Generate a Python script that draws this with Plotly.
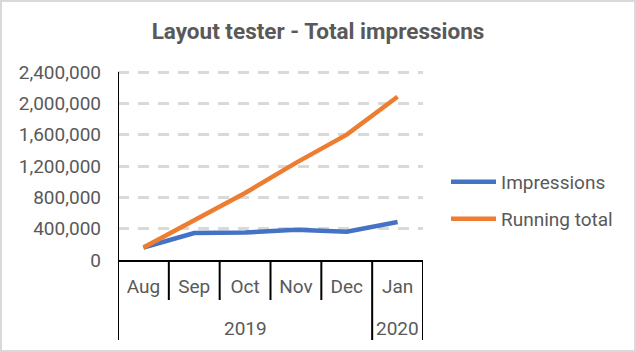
import plotly.graph_objects as go

months = ["Aug", "Sep", "Oct", "Nov", "Dec", "Jan"]
years = ["2019", "2019", "2019", "2019", "2019", "2020"]
impressions = [160000, 345000, 350000, 385000, 360000, 485000]
running_total = [160000, 505000, 855000, 1240000, 1600000, 2085000]
y_ticks = [0, 400000, 800000, 1200000, 1600000, 2000000, 2400000]

W, H = 636, 352
ML, MR, MT, MB = 118, 213, 70, 92
PW, PH = W - ML - MR, H - MT - MB
# 2,400,000 sits at y=72 px; leave 2 px above so its gridline is drawn
Y_MAX = 2400000 * PH / (PH - 2)

def px_x(p):
    return (p - ML) / PW

def px_y(p):
    return (H - MB - p) / PH

FONT = "Roboto"
GREY = "#595959"
BLUE = "#4472C4"
ORANGE = "#ED7D31"

fig = go.Figure()
fig.add_trace(go.Scatter(x=months, y=impressions, mode="lines", name="Impressions",
                         line=dict(color=BLUE, width=4.5), legend="legend", showlegend=True))
fig.add_trace(go.Scatter(x=months, y=running_total, mode="lines", name="Running total",
                         line=dict(color=ORANGE, width=4.5), legend="legend2", showlegend=True))

shapes = []
n = len(months)
# vertical value-axis line, from 0 up to the top tick
shapes.append(dict(type="line", xref="x", yref="y", x0=-0.5, x1=-0.5,
                   y0=0, y1=y_ticks[-1], line=dict(color="black", width=2)))
for i in range(n + 1):
    b = i - 0.5
    is_group_edge = (i == 0) or (i == n) or (years[i - 1] != years[i])
    shapes.append(dict(type="line", xref="x", yref="paper", x0=b, x1=b,
                       y0=0, y1=px_y(340 if is_group_edge else 300),
                       line=dict(color="black", width=2)))
shapes.append(dict(type="rect", xref="paper", yref="paper",
                   x0=px_x(1), x1=px_x(W - 1), y0=px_y(H - 1), y1=px_y(1),
                   line=dict(color="#d9d9d9", width=2), fillcolor="rgba(0,0,0,0)", layer="below"))

annotations = []
groups = []
for i, yv in enumerate(years):
    if groups and groups[-1][0] == yv:
        groups[-1][2] = i
    else:
        groups.append([yv, i, i])
for yv, a, b in groups:
    annotations.append(dict(text=yv, xref="x", yref="paper", x=(a + b) / 2, y=px_y(328),
                            showarrow=False, yanchor="middle", xanchor="center",
                            font=dict(family=FONT, size=19, color=GREY)))

legend_common = dict(xanchor="left", yanchor="middle",
                     font=dict(family=FONT, size=19, color=GREY), itemwidth=45,
                     bgcolor="rgba(0,0,0,0)")

fig.update_layout(
    width=W, height=H,
    showlegend=True,
    margin=dict(l=ML, r=MR, t=MT, b=MB),
    paper_bgcolor="white", plot_bgcolor="white",
    title=dict(text="<b>Layout tester - Total impressions</b>", x=0.5, xref="container",
               y=1 - 31 / H, yref="container", xanchor="center", yanchor="middle",
               font=dict(family=FONT, size=22.5, color=GREY)),
    xaxis=dict(type="category", range=[-0.5, n - 0.5], showline=True, linecolor="black",
               linewidth=2, showgrid=False, ticks="", ticklabelstandoff=8,
               tickfont=dict(family=FONT, size=19, color=GREY), fixedrange=True),
    yaxis=dict(range=[0, Y_MAX], tickvals=y_ticks, tickformat=",d", showline=False,
               showgrid=True, gridcolor="#d9d9d9",
               gridwidth=2.5, griddash="11px,9px", zeroline=False, ticks="",
               ticklabelstandoff=16, tickfont=dict(family=FONT, size=19, color=GREY)),
    legend=dict(x=px_x(446), y=px_y(182), **legend_common),
    legend2=dict(x=px_x(446), y=px_y(219), **legend_common),
    shapes=shapes,
    annotations=annotations,
)

fig.write_html("out.html")
